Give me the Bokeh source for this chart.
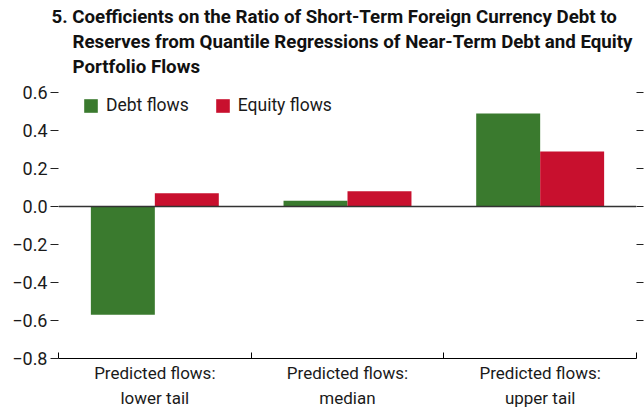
from bokeh.plotting import figure
from bokeh.models import (ColumnDataSource, Range1d, LinearAxis, FixedTicker,
                          Legend, LegendItem, Span, Title)
from bokeh.transform import dodge
from bokeh.embed import file_html
from bokeh.resources import INLINE

categories = ["Predicted flows:\nlower tail", "Predicted flows:\nmedian", "Predicted flows:\nupper tail"]
debt_flows = [-0.57, 0.03, 0.49]
equity_flows = [0.07, 0.08, 0.29]
y_ticks = [-0.8, -0.6, -0.4, -0.2, 0.0, 0.2, 0.4, 0.6]
y_tick_labels = ["\u22120.8", "\u22120.6", "\u22120.4", "\u22120.2", "0.0", "0.2", "0.4", "0.6"]
title_lines = ["5. Coefficients on the Ratio of Short-Term Foreign Currency Debt to",
               "Reserves from Quantile Regressions of Near-Term Debt and Equity",
               "Portfolio Flows"]

FONT = "Roboto"
GREEN = "#3a7a2e"
RED = "#c8102e"

W, H = 644, 411
LEFT, RIGHT, TOP, BOTTOM = 58, 8, 92, 53
FRAME_H = H - TOP - BOTTOM

n = len(categories)
centers = [i + 0.5 for i in range(n)]
src = ColumnDataSource(dict(x=centers, debt=debt_flows, equity=equity_flows))

p = figure(width=W, height=H, output_backend="svg", toolbar_location=None,
           x_range=Range1d(0, n), y_range=Range1d(-0.8, 0.6),
           x_axis_location=None, y_axis_location=None,
           min_border_left=LEFT, min_border_right=RIGHT, min_border_top=TOP,
           min_border_bottom=BOTTOM)
p.outline_line_color = None
p.grid.visible = False
p.background_fill_color = "white"

r1 = p.vbar(x=dodge("x", -0.166), top="debt", width=0.332,
            source=src, fill_color=GREEN, line_color=None)
r2 = p.vbar(x=dodge("x", 0.166), top="equity", width=0.332,
            source=src, fill_color=RED, line_color=None)

p.add_layout(Span(location=0, dimension="width", line_color="#333333", line_width=1.4))

# bottom axis: labels at category centers, inward ticks at category boundaries
xa = LinearAxis(ticker=FixedTicker(ticks=centers, minor_ticks=list(range(n + 1))),
                major_label_overrides={c: lab for c, lab in zip(centers, categories)})
xa.axis_line_color = "black"
xa.axis_line_width = 1.2
xa.major_tick_line_color = None
xa.major_tick_in = 0
xa.major_tick_out = 0
xa.minor_tick_line_color = "black"
xa.minor_tick_in = 6
xa.minor_tick_out = 0
xa.major_label_text_font = FONT
xa.major_label_text_font_size = "17px"
xa.major_label_text_color = "#1a1a1a"
xa.major_label_text_line_height = 1.25
xa.major_label_standoff = 4
p.add_layout(xa, "below")

ya = LinearAxis(ticker=FixedTicker(ticks=y_ticks),
                major_label_overrides={t: l for t, l in zip(y_ticks, y_tick_labels)})
ya.axis_line_color = None
ya.major_tick_line_color = "#222222"
ya.major_tick_out = 8
ya.major_tick_in = 0
ya.minor_tick_line_color = None
ya.major_label_text_font = FONT
ya.major_label_text_font_size = "18px"
ya.major_label_text_color = "#1a1a1a"
ya.major_label_standoff = 3
p.add_layout(ya, "left")

ya2 = LinearAxis(ticker=FixedTicker(ticks=y_ticks[1:]))
ya2.axis_line_color = None
ya2.major_tick_line_color = "#222222"
ya2.major_tick_out = 7
ya2.major_tick_in = 0
ya2.minor_tick_line_color = None
ya2.major_label_text_font_size = "0px"
ya2.major_label_text_color = None
p.add_layout(ya2, "right")

legend = Legend(items=[LegendItem(label="Debt flows", renderers=[r1]),
                       LegendItem(label="Equity flows", renderers=[r2])],
                orientation="horizontal", location=(24, FRAME_H - 3 - 20),
                label_text_font=FONT, label_text_font_size="17.5px",
                label_text_color="#1a1a1a",
                glyph_width=17, glyph_height=17, spacing=25, label_standoff=7,
                padding=0, margin=0, border_line_color=None, background_fill_alpha=0,
                label_height=17)
p.add_layout(legend)

# spacer between frame and title block
p.add_layout(Title(text=" ", text_font_size="11px", standoff=0), "above")

# title lines stacked above the frame (hanging indent for lines 2-3)
offsets = [-7, 14, 14]
for line, off in reversed(list(zip(title_lines, offsets))):
    p.add_layout(Title(text=line, align="left", offset=off, text_font=FONT,
                       text_font_size="18.7px", text_font_style="bold",
                       text_color="#111111", standoff=1), "above")

open("out.html", "w").write(file_html(p, INLINE))
